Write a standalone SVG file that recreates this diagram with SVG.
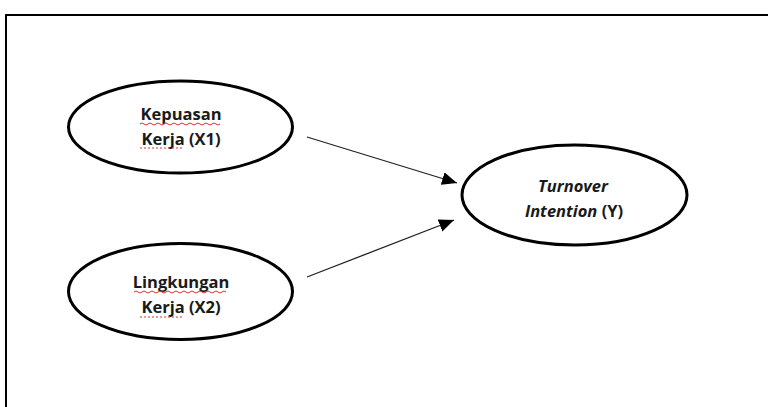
<svg xmlns="http://www.w3.org/2000/svg" width="768" height="407" viewBox="0 0 768 407">
  <style>
    .node ellipse { fill: #ffffff; stroke: #000000; stroke-width: 3; }
    .lbl { font-family: "Open Sans", "Liberation Sans", sans-serif; font-weight: 700; font-size: 16.5px; fill: #1a1a1a; text-anchor: middle; }
    .it { font-style: italic; }
    .conn line { stroke: #222222; stroke-width: 1.3; }
    .squig { fill: none; stroke: #e03030; stroke-width: 1; }
    .dots { fill: none; stroke: #e03030; stroke-width: 1; stroke-dasharray: 2 2; }
  </style>
  <defs>
    <marker id="arr" markerUnits="userSpaceOnUse" markerWidth="16" markerHeight="14" refX="15" refY="6.5" orient="auto">
      <path d="M0,0 L15,6.5 L0,13 z" fill="#000000"/>
    </marker>
  </defs>
  <rect x="0" y="0" width="768" height="407" fill="#ffffff"/>
  <rect id="frame" x="6" y="15" width="770" height="400" fill="none" stroke="#000000" stroke-width="2"/>

  <g id="connectors" class="conn">
    <line x1="307" y1="137" x2="457" y2="183" marker-end="url(#arr)"/>
    <line x1="307" y1="277" x2="454" y2="220" marker-end="url(#arr)"/>
  </g>

  <g id="node-x1" class="node">
    <ellipse cx="180.5" cy="127" rx="112" ry="46"/>
    <text class="lbl" x="181" y="120">Kepuasan</text>
    <text class="lbl" x="181" y="145">Kerja (X1)</text>
    <path class="squig" d="M140,124 q2,-2 4,0 t4,0 t4,0 t4,0 t4,0 t4,0 t4,0 t4,0 t4,0 t4,0 t4,0 t4,0 t4,0 t4,0 t4,0 t4,0 t4,0 t4,0 t4,0 t4,0"/>
    <path class="dots" d="M140,148 H184"/>
  </g>

  <g id="node-x2" class="node">
    <ellipse cx="180.5" cy="291.5" rx="112" ry="48"/>
    <text class="lbl" x="181" y="288">Lingkungan</text>
    <text class="lbl" x="181" y="313">Kerja (X2)</text>
    <path class="squig" d="M134,292 q2,-2 4,0 t4,0 t4,0 t4,0 t4,0 t4,0 t4,0 t4,0 t4,0 t4,0 t4,0 t4,0 t4,0 t4,0 t4,0 t4,0 t4,0 t4,0 t4,0 t4,0 t4,0 t4,0 t4,0"/>
    <path class="dots" d="M140,317 H184"/>
  </g>

  <g id="node-y" class="node">
    <ellipse cx="574.5" cy="195" rx="112.5" ry="50"/>
    <text class="lbl it" x="573" y="192">Turnover</text>
    <text class="lbl" x="574" y="217"><tspan class="it">Intention</tspan> (Y)</text>
  </g>
</svg>
